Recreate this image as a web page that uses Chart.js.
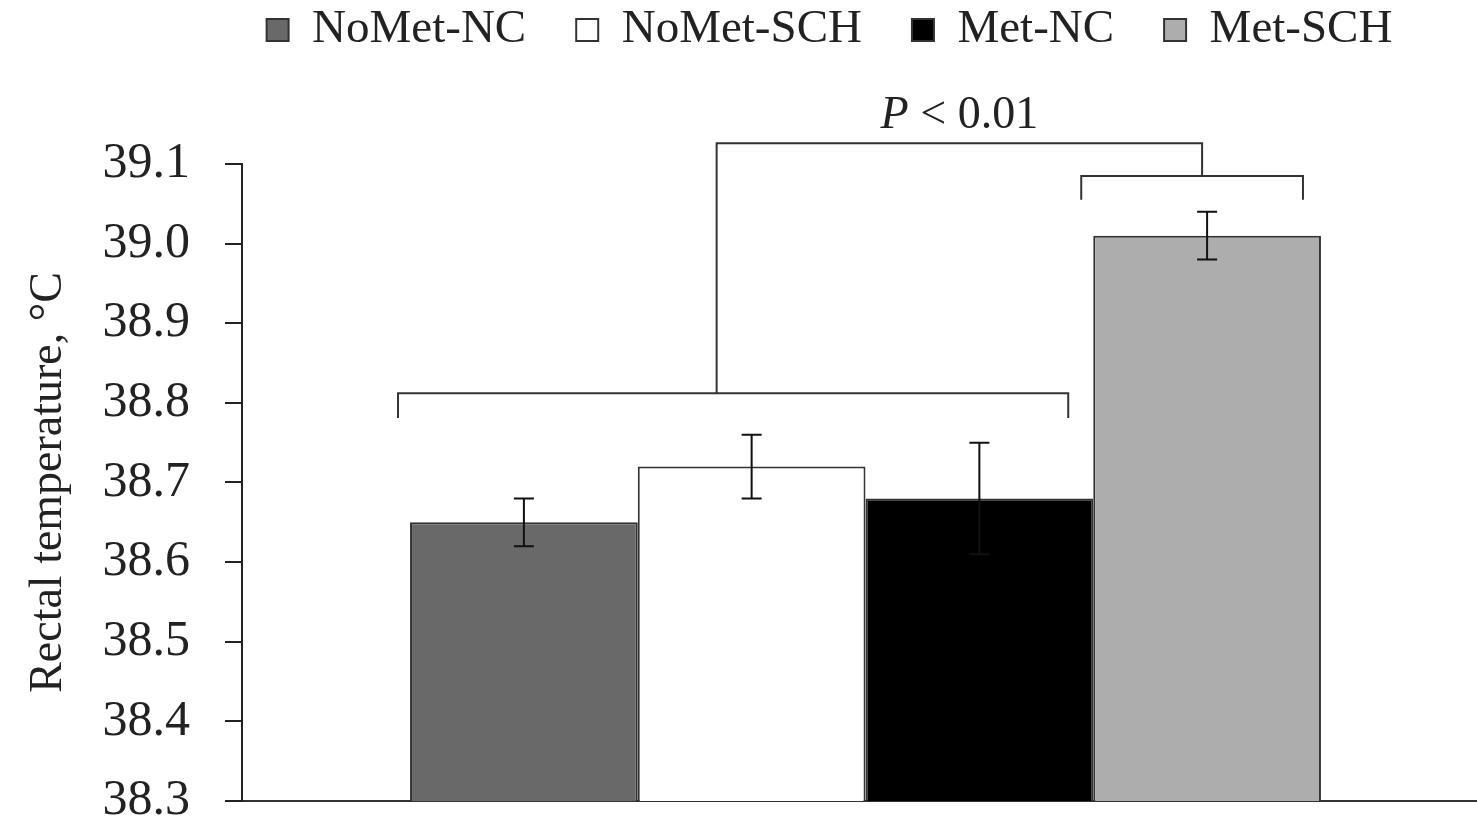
<!DOCTYPE html>
<html>
<head>
<meta charset="utf-8">
<title>Rectal temperature</title>
<script src="https://cdn.jsdelivr.net/npm/chart.js@4.4.1/dist/chart.umd.min.js"></script>
<style>
  html, body { margin: 0; padding: 0; background: #fff; overflow: hidden; }
  canvas { display: block; }
</style>
</head>
<body>
<canvas id="TempChart" width="1489" height="856"></canvas>
<script>
  // treatment groups, mean rectal temperature and SE
  var groups = ['NoMet-NC', 'NoMet-SCH', 'Met-NC', 'Met-SCH'];
  var means = [38.65, 38.72, 38.68, 39.01];
  var errors = [0.03, 0.04, 0.07, 0.03];
  var fills = ['#696969', '#ffffff', '#000000', '#adadad'];

  // y axis range
  var yMin = 38.3, yMax = 39.1, yStep = 0.1;

  // significance label (italic P, then the rest)
  var pLabel = ['P', ' < 0.01'];

  var serif = '"Liberation Serif", "Times New Roman", serif';
  var ink = '#222';

  // SE whiskers on top of each bar
  var errorBars = {
    id: 'errorBars',
    afterDatasetsDraw: function(chart) {
      var ctx = chart.ctx, y = chart.scales.y;
      ctx.save();
      ctx.strokeStyle = '#111';
      ctx.lineWidth = 2;
      groups.forEach(function(g, i) {
        var bar = chart.getDatasetMeta(i).data[0];
        var top = y.getPixelForValue(means[i] + errors[i]);
        var bot = y.getPixelForValue(means[i] - errors[i]);
        ctx.beginPath();
        ctx.moveTo(bar.x, top); ctx.lineTo(bar.x, bot);
        ctx.moveTo(bar.x - 10, top); ctx.lineTo(bar.x + 10, top);
        ctx.moveTo(bar.x - 10, bot); ctx.lineTo(bar.x + 10, bot);
        ctx.stroke();
      });
      ctx.restore();
    }
  };

  // comparison brackets: NoMet-NC/NoMet-SCH/Met-NC vs Met-SCH
  var brackets = {
    id: 'brackets',
    afterDatasetsDraw: function(chart) {
      var ctx = chart.ctx, y = chart.scales.y;
      var bar = function(i) { return chart.getDatasetMeta(i).data[0]; };
      var half = bar(0).width / 2;

      var lowL = bar(0).x - half - 12, lowR = bar(2).x + half - 25;
      var lowY = y.getPixelForValue(38.812), lowLeg = y.getPixelForValue(38.781);
      var smL = bar(3).x - half - 12, smR = bar(3).x + half - 18;
      var smY = y.getPixelForValue(39.085), smLeg = y.getPixelForValue(39.055);
      var topY = y.getPixelForValue(39.126);
      var riseL = bar(1).x - 35, riseR = bar(3).x - 5;

      ctx.save();
      ctx.strokeStyle = '#333';
      ctx.lineWidth = 2;
      ctx.beginPath();
      ctx.moveTo(lowL, lowLeg); ctx.lineTo(lowL, lowY); ctx.lineTo(lowR, lowY); ctx.lineTo(lowR, lowLeg);
      ctx.moveTo(smL, smLeg); ctx.lineTo(smL, smY); ctx.lineTo(smR, smY); ctx.lineTo(smR, smLeg);
      ctx.moveTo(riseL, lowY); ctx.lineTo(riseL, topY); ctx.lineTo(riseR, topY); ctx.lineTo(riseR, smY);
      ctx.stroke();

      ctx.fillStyle = ink;
      ctx.textBaseline = 'alphabetic';
      ctx.font = 'italic 46px ' + serif;
      var w1 = ctx.measureText(pLabel[0]).width;
      ctx.font = '46px ' + serif;
      var w2 = ctx.measureText(pLabel[1]).width;
      var x0 = (riseL + riseR) / 2 - (w1 + w2) / 2;
      ctx.font = 'italic 46px ' + serif;
      ctx.fillText(pLabel[0], x0, topY - 15);
      ctx.font = '46px ' + serif;
      ctx.fillText(pLabel[1], x0 + w1, topY - 15);
      ctx.restore();
    }
  };

  // keep the legend row up top and leave room for the brackets below it
  var legendSpace = {
    id: 'legendSpace',
    beforeInit: function(chart) {
      var fit = chart.legend.fit;
      chart.legend.fit = function() { fit.call(this); this.height = 164; };
    },
    afterLayout: function(chart) {
      var lg = chart.legend;
      lg.left += 85; lg.right += 85;
      lg.top -= 43.5; lg.bottom -= 43.5;
    }
  };

  var ctx = document.getElementById('TempChart').getContext('2d');
  var chart = new Chart(ctx, {
    type: 'bar',
    data: {
      labels: [''],
      datasets: groups.map(function(g, i) {
        return {
          label: g,
          data: [means[i]],
          backgroundColor: fills[i],
          borderColor: '#333',
          borderWidth: 2,
          barPercentage: 1.0,
          categoryPercentage: 0.7305
        };
      })
    },
    options: {
      responsive: false,
      animation: false,
      layout: { padding: 0 },
      plugins: {
        tooltip: { enabled: false },
        legend: {
          position: 'top',
          fullSize: true,
          labels: {
            color: ink,
            boxWidth: 22,
            boxHeight: 22,
            padding: 50,
            font: { family: serif, size: 47 }
          }
        }
      },
      scales: {
        x: {
          grid: { display: false, drawTicks: false },
          ticks: { display: false },
          border: { display: true, color: '#333', width: 2 }
        },
        y: {
          min: yMin,
          max: yMax,
          grid: {
            display: true,
            drawOnChartArea: false,
            drawTicks: true,
            tickLength: 17,
            color: ink,
            lineWidth: 2
          },
          border: { display: true, color: ink, width: 2 },
          ticks: {
            stepSize: yStep,
            padding: 35,
            color: ink,
            font: { family: serif, size: 50, lineHeight: 0.8 },
            callback: function(v) { return Number(v).toFixed(1); }
          },
          title: {
            display: true,
            text: 'Rectal temperature, °C',
            color: ink,
            font: { family: serif, size: 46, lineHeight: 1 },
            padding: { top: 25.5, bottom: -4 }
          }
        }
      }
    },
    plugins: [errorBars, brackets, legendSpace]
  });
</script>
</body>
</html>
